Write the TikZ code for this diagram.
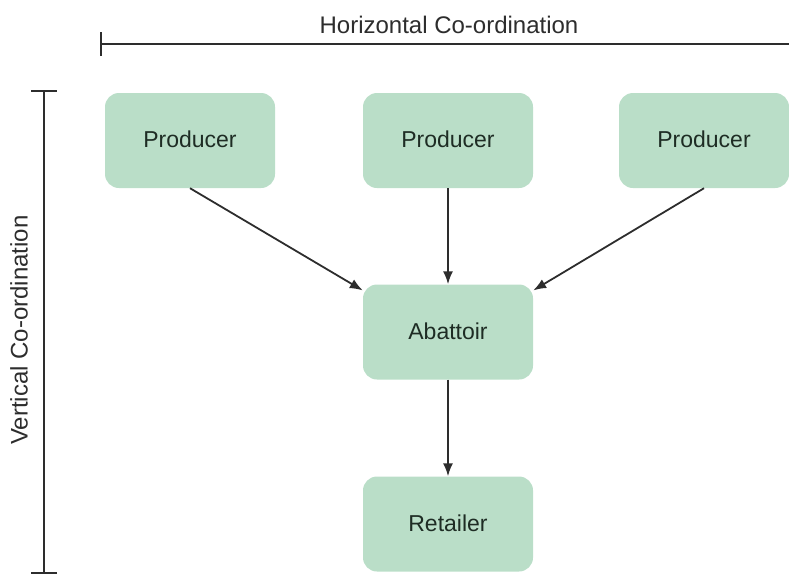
\documentclass[tikz,border=0pt]{standalone}
\usepackage{fontspec}
\setmainfont{Liberation Sans}
\usetikzlibrary{arrows.meta}
\definecolor{boxfill}{RGB}{186,222,200}
\definecolor{boxtext}{RGB}{30,44,36}
\definecolor{linecol}{RGB}{45,45,45}
\begin{document}
\begin{tikzpicture}[x=1pt,y=-1pt,
  stage/.style={rectangle, rounded corners=14pt, fill=boxfill,
    minimum width=170pt, minimum height=95pt, inner sep=0pt,
    font=\fontsize{23}{27}\selectfont, text=boxtext},
  flow/.style={draw=linecol, line width=1.8pt, -{Latex[length=13pt,width=10pt]}},
  bar/.style={draw=linecol, line width=2.2pt},
  caption/.style={font=\fontsize{24}{28}\selectfont, text=linecol, inner sep=0pt}]
\useasboundingbox (0,0) rectangle (789,576);

% stages of the supply chain
\node[stage] (p1) at (190,140.5) {\raisebox{3pt}{Producer}};
\node[stage] (p2) at (448,140.5) {\raisebox{3pt}{Producer}};
\node[stage] (p3) at (704,140.5) {\raisebox{3pt}{Producer}};
\node[stage] (ab) at (448,332) {\raisebox{2pt}{Abattoir}};
\node[stage] (re) at (448,524) {\raisebox{2pt}{Retailer}};

% flows between stages
\draw[flow] (p1.south) -- (ab.154);
\draw[flow] (p2.south) -- (ab.north);
\draw[flow] (p3.south) -- (ab.26);
\draw[flow] (ab.south) -- (re.north);

% horizontal co-ordination axis
\coordinate (hl) at (100,44);
\coordinate (hr) at (789,44);
\draw[bar, {Bar[width=24pt]}-] (hl) -- (hr);
\node[caption] (ht) at (449,25) {Horizontal Co-ordination};

% vertical co-ordination axis
\coordinate (vt) at (44,90);
\coordinate (vb) at (44,574);
\draw[bar, {Bar[width=26pt]}-{Bar[width=26pt]}] (vt) -- (vb);
\node[caption, rotate=90] (vl) at (19,330) {Vertical Co-ordination};
\end{tikzpicture}
\end{document}
